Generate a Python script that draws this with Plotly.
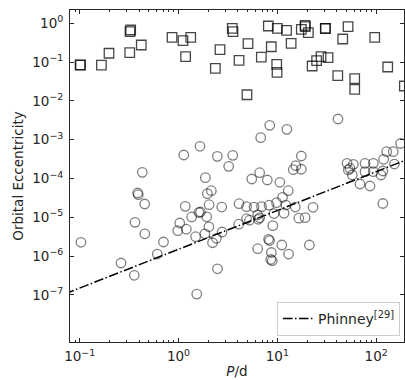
import plotly.graph_objects as go

# ---- data ----
square_P = [0.102, 0.101, 0.166, 0.198, 0.321, 0.328, 0.323, 0.420, 0.86, 1.11, 1.33, 1.18,
            2.36, 2.63, 3.50, 3.56, 4.10, 5.05, 4.93, 6.89, 8.11, 8.69, 10.0, 9.86, 9.93,
            12.4, 13.8, 17.5, 19.1, 19.2, 20.6, 22.5, 25.0, 27.7, 32.6, 30.6, 30.7, 45.9,
            52.0, 40.9, 60.7, 60.7, 96.8, 131, 193]
square_e = [0.084, 0.085, 0.084, 0.169, 0.175, 0.672, 0.608, 0.276, 0.436, 0.356, 0.436, 0.138,
            0.069, 0.209, 0.743, 0.608, 0.111, 0.298, 0.0144, 0.135, 0.852, 0.249, 0.743, 0.0878, 0.0546,
            0.660, 0.305, 0.700, 0.888, 0.817, 0.573, 0.0793, 0.109, 0.138, 0.130, 0.743, 0.735, 0.394,
            0.817, 0.0446, 0.0373, 0.0199, 0.436, 0.0748, 0.0242]

circle_P = [41.1, 8.38, 12.5, 6.79, 1.65, 1.13, 2.47, 3.54, 3.22, 17.5,
            15.4, 14.5, 17.5, 0.430, 1.87, 5.51, 6.63, 7.92, 10.6, 0.386,
            0.392, 1.96, 2.15, 12.9, 11.3, 0.455, 1.17, 2.04, 2.74, 4.10,
            4.88, 5.81, 6.92, 8.24, 9.82, 12.2, 15.2, 23.0, 11.7,
            50.8, 54.4, 57.4, 58.8, 52.3, 77.2, 93.7, 77.2, 93.7, 68.7,
            86.7, 112, 117, 119, 128, 149, 177, 153, 117,
            1.03, 0.984, 1.20, 1.36, 1.61, 1.67, 1.93, 1.49, 2.03, 1.85,
            2.21, 2.42, 2.76, 4.07, 4.88, 5.23, 6.33, 6.63, 6.42, 9.26,
            9.00, 8.15, 8.34, 6.33, 8.70, 8.88, 8.58, 11.1, 13.0, 21.1,
            16.5, 19.1, 2.48, 1.53, 0.609, 0.705, 0.456, 0.363, 0.262, 0.357,
            0.103]
circle_e = [3.42e-3, 2.35e-3, 1.85e-3, 1.13e-3, 6.76e-4, 4.03e-4, 3.73e-4, 3.96e-4, 2.06e-4, 3.80e-4,
            2.14e-4, 1.69e-4, 1.73e-4, 1.44e-4, 1.05e-4, 9.70e-5, 1.41e-4, 9.15e-5, 7.98e-5, 4.23e-5,
            3.82e-5, 4.06e-5, 4.85e-5, 4.85e-5, 3.28e-5, 2.20e-5, 1.92e-5, 2.11e-5, 1.84e-5, 2.24e-5,
            1.88e-5, 1.84e-5, 1.88e-5, 2.05e-5, 2.38e-5, 2.07e-5, 1.84e-5, 1.81e-5, 1.28e-5,
            2.46e-4, 1.83e-4, 1.23e-4, 2.32e-4, 1.66e-4, 2.46e-4, 2.46e-4, 1.50e-4, 1.50e-4, 7.21e-5,
            6.41e-5, 1.23e-4, 1.56e-4, 3.13e-4, 4.91e-4, 4.91e-4, 7.98e-4, 2.36e-4, 2.27e-5,
            7.13e-6, 4.52e-6, 4.93e-6, 1.02e-5, 1.33e-5, 1.37e-5, 1.03e-5, 3.16e-6, 5.69e-6, 3.76e-6,
            2.21e-6, 2.88e-6, 4.18e-6, 6.64e-6, 9.20e-6, 8.42e-6, 1.16e-5, 9.71e-6, 8.88e-6, 1.25e-5,
            6.08e-6, 2.71e-6, 2.52e-6, 1.55e-6, 1.24e-6, 7.61e-7, 8.17e-7, 1.93e-6, 1.13e-6, 1.93e-6,
            9.48e-6, 9.77e-6, 4.71e-7, 1.05e-7, 1.13e-6, 2.31e-6, 3.76e-6, 7.43e-6, 6.64e-7, 3.20e-7,
            2.27e-6]

# Phinney relation line end points (e = 1.5e-4 * P/100 d)
phinney_P = [0.05, 300.0]
phinney_e = [7.5e-8, 4.5e-4]

x_tickvals = [0.1, 1, 10, 100]
x_ticktext = ["10<sup>−1</sup>", "10<sup>0</sup>", "10<sup>1</sup>", "10<sup>2</sup>"]
y_tickvals = [1e-7, 1e-6, 1e-5, 1e-4, 1e-3, 1e-2, 1e-1, 1]
y_ticktext = ["10<sup>−7</sup>", "10<sup>−6</sup>", "10<sup>−5</sup>", "10<sup>−4</sup>",
              "10<sup>−3</sup>", "10<sup>−2</sup>", "10<sup>−1</sup>", "10<sup>0</sup>"]
x_minor = [m * 10.0 ** d for d in range(-2, 3) for m in range(2, 10)]

FONT = "DejaVu Sans"
INK = "#262626"

fig = go.Figure()
fig.add_trace(go.Scatter(
    x=square_P, y=square_e, mode="markers", showlegend=False,
    marker=dict(symbol="square-open", size=9.5, color="rgba(0,0,0,0.72)",
                line=dict(width=1.3, color="rgba(0,0,0,0.72)"))))
fig.add_trace(go.Scatter(
    x=circle_P, y=circle_e, mode="markers", showlegend=False,
    marker=dict(symbol="circle-open", size=9.5, color="rgba(0,0,0,0.5)",
                line=dict(width=1.3, color="rgba(0,0,0,0.5)"))))
fig.add_trace(go.Scatter(
    x=phinney_P, y=phinney_e, mode="lines", name="Phinney<sup>[29]</sup>",
    line=dict(color="black", width=1.5, dash="9.6px,2.4px,1.5px,2.4px")))

axis_common = dict(
    type="log", showline=True, linecolor=INK, linewidth=1, mirror="allticks",
    ticks="inside", ticklen=4, tickwidth=1, tickcolor=INK, showgrid=False, zeroline=False,
    tickfont=dict(family=FONT, size=13.5, color=INK),
)

fig.update_xaxes(**axis_common, range=[-1.098, 2.282],
                 tickvals=x_tickvals, ticktext=x_ticktext, ticklabelstandoff=2,
                 minor=dict(ticks="inside", ticklen=2, tickwidth=0.8, tickcolor=INK,
                            tickvals=x_minor, showgrid=False),
                 title=dict(text="<i>P</i>/d", font=dict(family=FONT, size=13.5, color=INK), standoff=3))
fig.update_yaxes(**axis_common, range=[-8.214, 0.343],
                 tickvals=y_tickvals, ticktext=y_ticktext, ticklabelstandoff=3,
                 title=dict(text="Orbital Eccentricity", font=dict(family=FONT, size=13.5, color=INK), standoff=5))

fig.update_layout(
    width=405, height=380,
    margin=dict(l=70, r=1, t=10, b=38, autoexpand=False),
    plot_bgcolor="white", paper_bgcolor="white",
    font=dict(family=FONT, size=13, color=INK),
    legend=dict(x=0.988, y=0.018, xanchor="right", yanchor="bottom",
                bgcolor="white", bordercolor="#cccccc", borderwidth=1,
                font=dict(family=FONT, size=14, color=INK), itemwidth=30),
)

fig.write_html("out.html")
